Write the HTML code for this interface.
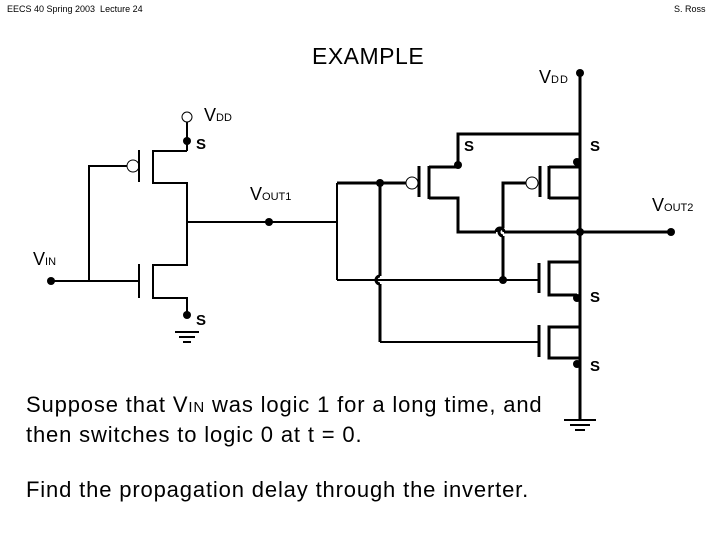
<!DOCTYPE html>
<html><head><meta charset="utf-8"><style>
html,body{margin:0;padding:0;background:#fff;}
body{width:720px;height:540px;overflow:hidden;position:relative;font-family:"Liberation Sans",sans-serif;}
.t{position:absolute;white-space:nowrap;color:#000;}
svg{position:absolute;left:0;top:0;}
</style></head><body>
<svg width="720" height="540" viewBox="0 0 720 540">
<g stroke="#000" fill="none" stroke-width="2">
<circle cx="187" cy="117" r="5" stroke-width="1"/>
<line x1="187" y1="122" x2="187" y2="151"/>
<polyline points="187,151 153,151 153,183 187,183 187,265 153,265 153,298 187,298 187,315"/>
<line x1="139" y1="150" x2="139" y2="182"/>
<circle cx="133" cy="166" r="6" stroke-width="1"/>
<polyline points="127,166 89,166 89,281"/>
<line x1="139" y1="264" x2="139" y2="298"/>
<line x1="51" y1="281" x2="139" y2="281"/>
<line x1="187" y1="222" x2="337" y2="222"/>
<line x1="175" y1="332" x2="199" y2="332"/>
<line x1="179" y1="337" x2="195" y2="337"/>
<line x1="183" y1="342" x2="191" y2="342"/>
</g>
<g stroke="#000" fill="none" stroke-width="3">
<line x1="580" y1="73" x2="580" y2="420"/>
<polyline points="580,134 458,134 458,167 429,167"/>
<line x1="429" y1="166" x2="429" y2="199"/>
<polyline points="429,198 458,198 458,232 496,232"/>
<path d="M496,232 A4,4 0 0 1 504,232"/>
<line x1="504" y1="232" x2="671" y2="232"/>
<line x1="419" y1="166" x2="419" y2="197"/>
<line x1="337" y1="183" x2="406" y2="183"/>
<line x1="337" y1="183" x2="337" y2="280" stroke-width="2"/>
<line x1="337" y1="280" x2="539" y2="280" stroke-width="2"/>
<line x1="380" y1="183" x2="380" y2="276"/>
<path d="M380,276 A4,4 0 0 0 380,284"/>
<line x1="380" y1="284" x2="380" y2="342"/>
<line x1="380" y1="342" x2="539" y2="342" stroke-width="2"/>
<line x1="503" y1="280" x2="503" y2="236"/>
<path d="M503,236 A4,4 0 0 1 503,228"/>
<polyline points="503,228 503,183 526,183"/>
<line x1="540" y1="166" x2="540" y2="197"/>
<line x1="549" y1="166" x2="549" y2="199"/>
<polyline points="549,167 580,167"/>
<polyline points="549,198 580,198"/>
<line x1="539" y1="263" x2="539" y2="293"/>
<polyline points="580,262 549,262 549,295 577,295"/>
<line x1="539" y1="325" x2="539" y2="357"/>
<polyline points="580,327 549,327 549,358 580,358"/>
<line x1="564" y1="420" x2="596" y2="420" stroke-width="2"/>
<line x1="570" y1="425" x2="590" y2="425" stroke-width="2"/>
<line x1="575" y1="430" x2="585" y2="430" stroke-width="2"/>
</g>
<g stroke="#000" fill="#fff" stroke-width="1">
<circle cx="412" cy="183" r="6"/>
<circle cx="532" cy="183" r="6"/>
</g>
<g fill="#000">
<circle cx="187" cy="141" r="4"/>
<circle cx="187" cy="315" r="4"/>
<circle cx="51" cy="281" r="4"/>
<circle cx="269" cy="222" r="4"/>
<circle cx="580" cy="73" r="4"/>
<circle cx="458" cy="165" r="4"/>
<circle cx="577" cy="162" r="4"/>
<circle cx="380" cy="183" r="4"/>
<circle cx="503" cy="280" r="4"/>
<circle cx="580" cy="232" r="4"/>
<circle cx="671" cy="232" r="4"/>
<circle cx="577" cy="298" r="4"/>
<circle cx="577" cy="364" r="4"/>
</g>
</svg>
<div class="t" style="left:7px;top:4px;font-size:9px;">EECS 40 Spring 2003&nbsp; Lecture 24</div>
<div class="t" style="left:674px;top:4px;font-size:9px;">S. Ross</div>
<div class="t" style="left:312px;top:43px;font-size:23px;letter-spacing:0.5px;">EXAMPLE</div>
<div class="t" style="left:539px;top:67px;font-size:18px;">V<span style="font-size:11px;letter-spacing:1px;">DD</span></div>
<div class="t" style="left:204px;top:105px;font-size:18px;">V<span style="font-size:11px;">DD</span></div>
<div class="t" style="left:196px;top:136px;font-size:15px;font-weight:bold;">S</div>
<div class="t" style="left:464px;top:138px;font-size:15px;font-weight:bold;">S</div>
<div class="t" style="left:590px;top:138px;font-size:15px;font-weight:bold;">S</div>
<div class="t" style="left:590px;top:289px;font-size:15px;font-weight:bold;">S</div>
<div class="t" style="left:196px;top:312px;font-size:15px;font-weight:bold;">S</div>
<div class="t" style="left:590px;top:358px;font-size:15px;font-weight:bold;">S</div>
<div class="t" style="left:250px;top:184px;font-size:18px;">V<span style="font-size:11px;">OUT1</span></div>
<div class="t" style="left:652px;top:195px;font-size:18px;">V<span style="font-size:11px;">OUT2</span></div>
<div class="t" style="left:33px;top:249px;font-size:18px;">V<span style="font-size:11px;">IN</span></div>
<div class="t" style="left:26px;top:391px;font-size:22px;line-height:27px;letter-spacing:0.85px;">Suppose that V<span style="font-size:15px;">IN</span> was logic 1 for a long time, and<br>then switches to logic 0 at t = 0.</div>
<div class="t" style="left:26px;top:476px;font-size:22px;line-height:28px;letter-spacing:0.85px;">Find the propagation delay through the inverter.</div>
</body></html>
